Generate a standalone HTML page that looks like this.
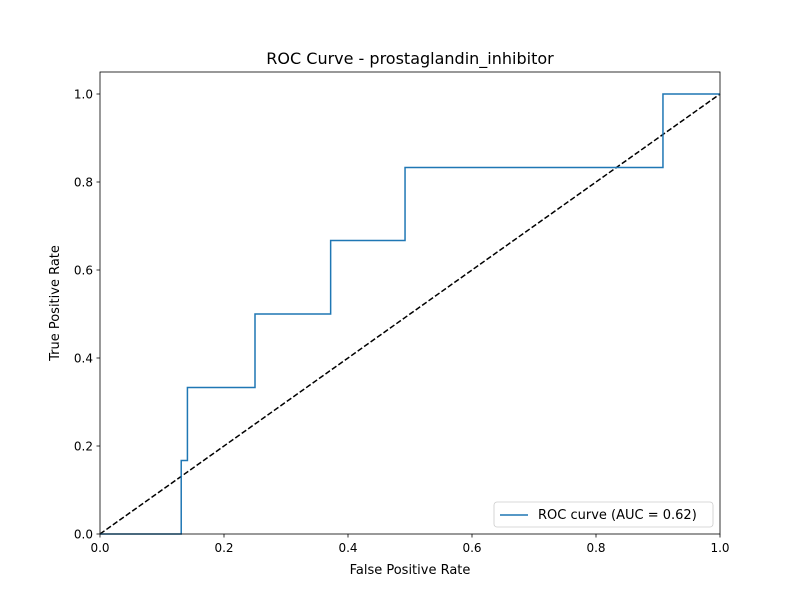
<!DOCTYPE html>
<html><head><meta charset="utf-8"><style>
body{margin:0;background:#fff;}
svg text{font-family:"DejaVu Sans","Liberation Sans",sans-serif;fill:#000;}
</style></head><body>
<svg id="chart" width="800" height="600" xmlns="http://www.w3.org/2000/svg">
<rect width="800" height="600" fill="#fff"/>
<text x="410" y="64" font-size="16" text-anchor="middle">ROC Curve - prostaglandin_inhibitor</text>
<g id="plot"></g>
<text x="410" y="574" font-size="13" text-anchor="middle">False Positive Rate</text>
<text x="0" y="0" font-size="13" text-anchor="middle" transform="translate(59,303) rotate(-90)">True Positive Rate</text>
</svg>
<script>
const fpr=[0,0.131,0.131,0.141,0.141,0.25,0.25,0.372,0.372,0.492,0.492,0.908,0.908,1];
const tpr=[0,0,0.167,0.167,0.333,0.333,0.5,0.5,0.667,0.667,0.833,0.833,1,1];
const xTicks=[0,0.2,0.4,0.6,0.8,1.0];
const yTicks=[0,0.2,0.4,0.6,0.8,1.0];
const xTickLabels=["0.0","0.2","0.4","0.6","0.8","1.0"];
const yTickLabels=["0.0","0.2","0.4","0.6","0.8","1.0"];
const aucLabel="ROC curve (AUC = 0.62)";
const L=100,R=720,T=72,B=534;
const xs=v=>L+v*(R-L);
const ys=v=>B-v/1.05*(B-T);
const NS="http://www.w3.org/2000/svg";
const g=document.getElementById('plot');
function mk(t,a){const e=document.createElementNS(NS,t);for(const k in a)e.setAttribute(k,a[k]);g.appendChild(e);return e;}
let e=mk('polyline',{points:`${xs(0)},${ys(0)} ${xs(1)},${ys(1)}`,fill:'none',stroke:'#000','stroke-width':1.5,'stroke-dasharray':'5.5,2.4'});


e=mk('polyline',{points:fpr.map((f,i)=>xs(f)+','+ys(tpr[i])).join(' '),fill:'none',stroke:'#1f77b4','stroke-width':1.5});


e=mk('rect',{x:L,y:T,width:R-L,height:B-T,fill:'none',stroke:'#000','stroke-width':0.8});


xTicks.forEach((v,i)=>{
 let t=mk('line',{x1:xs(v),x2:xs(v),y1:B,y2:B+3.5,stroke:'#000','stroke-width':0.8});
 
 
 let l=mk('text',{x:xs(v),y:B+18,'font-size':12,'text-anchor':'middle'});l.textContent=xTickLabels[i];
 
 
});
yTicks.forEach((v,i)=>{
 let t=mk('line',{x1:L-3.5,x2:L,y1:ys(v),y2:ys(v),stroke:'#000','stroke-width':0.8});
 
 
 let l=mk('text',{x:L-7,y:ys(v)+4.5,'font-size':12,'text-anchor':'end'});l.textContent=yTickLabels[i];
 
 
});
e=mk('rect',{x:494,y:502,width:219,height:25,rx:3,fill:'#fff',stroke:'#ccc','stroke-width':0.8});


e=mk('line',{x1:500,x2:528,y1:515,y2:515,stroke:'#1f77b4','stroke-width':1.5});


e=mk('text',{x:538,y:519,'font-size':13});e.textContent=aucLabel;


</script>
</body></html>
